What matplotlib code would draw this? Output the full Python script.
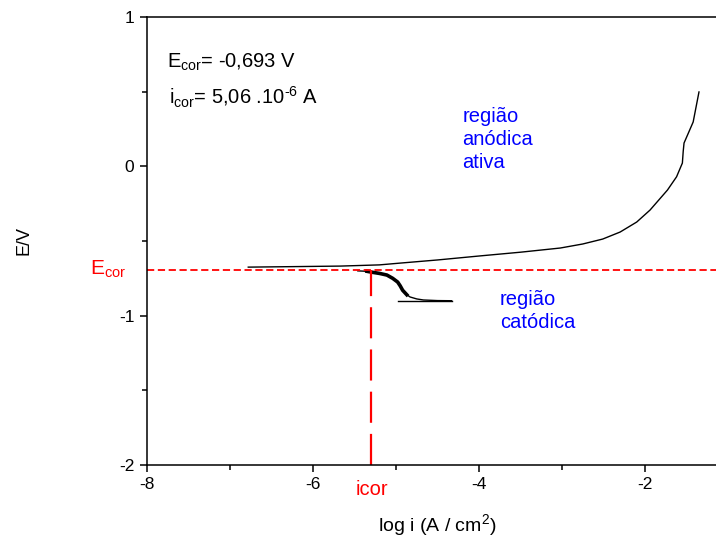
import matplotlib
matplotlib.use("Agg")
import matplotlib.pyplot as plt
from matplotlib.ticker import MultipleLocator

plt.rcParams['font.family'] = ['Liberation Sans', 'DejaVu Sans']
plt.rcParams['mathtext.fontset'] = 'custom'
plt.rcParams['mathtext.rm'] = 'Liberation Sans'
plt.rcParams['mathtext.it'] = 'Liberation Sans'
plt.rcParams['axes.unicode_minus'] = False

# ramo anodico (log i, E)
anod_logi = [-6.78, -6.3, -5.67, -5.2, -4.95, -4.5, -3.99, -3.5, -3.02, -2.75,
             -2.51, -2.3, -2.10, -1.94, -1.73, -1.62, -1.55, -1.54, -1.53,
             -1.48, -1.42, -1.35]
anod_E = [-0.675, -0.672, -0.668, -0.66, -0.648, -0.627, -0.60, -0.575, -0.547,
          -0.52, -0.487, -0.44, -0.373, -0.293, -0.159, -0.07, 0.022, 0.10,
          0.156, 0.22, 0.297, 0.498]

# ramo catodico
cat_logi = [-5.46, -5.35, -5.28, -5.2, -5.11, -5.04, -4.98, -4.95, -4.92,
            -4.87, -4.83, -4.75, -4.67, -4.5, -4.33]
cat_E = [-0.70, -0.703, -0.71, -0.717, -0.728, -0.75, -0.775, -0.80, -0.83,
         -0.86, -0.875, -0.888, -0.895, -0.899, -0.90]
cat_fim_logi = [-4.98, -4.33]
cat_fim_E = [-0.902, -0.902]

E_cor = -0.693
i_cor = 5.06e-6
log_icor = -5.296  # log10(5.06e-6)

fig = plt.figure(figsize=(7.16, 5.38), dpi=100)
ax = fig.add_axes([0.2053, 0.1357, 0.8115, 0.8327])

ax.plot(anod_logi, anod_E, color='black', lw=1.0)
ax.plot(cat_logi, cat_E, color='black', lw=1.0)
# trecho com ruido no ramo catodico
ax.plot(cat_logi[1:10], cat_E[1:10], color='black', lw=2.6)
ax.plot(cat_fim_logi, cat_fim_E, color='black', lw=1.0)

# linhas de Ecor e icor
ax.axhline(E_cor, color='red', lw=1.3, dashes=(4, 2))
ax.plot([log_icor, log_icor], [-2, E_cor], color='red', lw=1.6,
        dashes=(14, 5), clip_on=False)

ax.set_xlim(-8, -1.0)
ax.set_ylim(-2, 1)
ax.xaxis.set_major_locator(MultipleLocator(2))
ax.xaxis.set_minor_locator(MultipleLocator(1))
ax.yaxis.set_major_locator(MultipleLocator(1))
ax.yaxis.set_minor_locator(MultipleLocator(0.5))
ax.tick_params(which='major', direction='out', length=5, width=1.1,
               labelsize=12.5, pad=4)
ax.tick_params(which='minor', direction='out', length=3.5, width=1.1)
ax.tick_params(which='both', top=False, right=False)
for side in ['left', 'bottom', 'top']:
    ax.spines[side].set_linewidth(1.1)
ax.spines['right'].set_visible(False)

ax.set_xlabel('log i (A / cm$^2$)', fontsize=14, labelpad=14)
ax.set_ylabel('E/V', fontsize=13, labelpad=62)

ax.text(0.035, 0.887, r'E$_{\mathrm{cor}}$= -0,693 V', transform=ax.transAxes,
        fontsize=14.5, va='baseline')
ax.text(0.038, 0.805, r'i$_{\mathrm{cor}}$= 5,06 .10$^{\text{-6}}$ A',
        transform=ax.transAxes, fontsize=14.5, va='baseline')

ax.text(-4.2, 0.40, 'região\nanódica\nativa', color='#0000ff', fontsize=14.5,
        va='top', ha='left', linespacing=1.28)
ax.text(-3.75, -0.83, 'região\ncatódica', color='#0000ff', fontsize=14.5,
        va='top', ha='left', linespacing=1.28)

ax.text(-8.25, E_cor, r'E$_{\mathrm{cor}}$', color='red', fontsize=15,
        ha='right', va='center')
ax.text(log_icor, -2.1, 'icor', color='red', fontsize=14.5,
        ha='center', va='top')

fig.savefig('out.png', dpi=100)
